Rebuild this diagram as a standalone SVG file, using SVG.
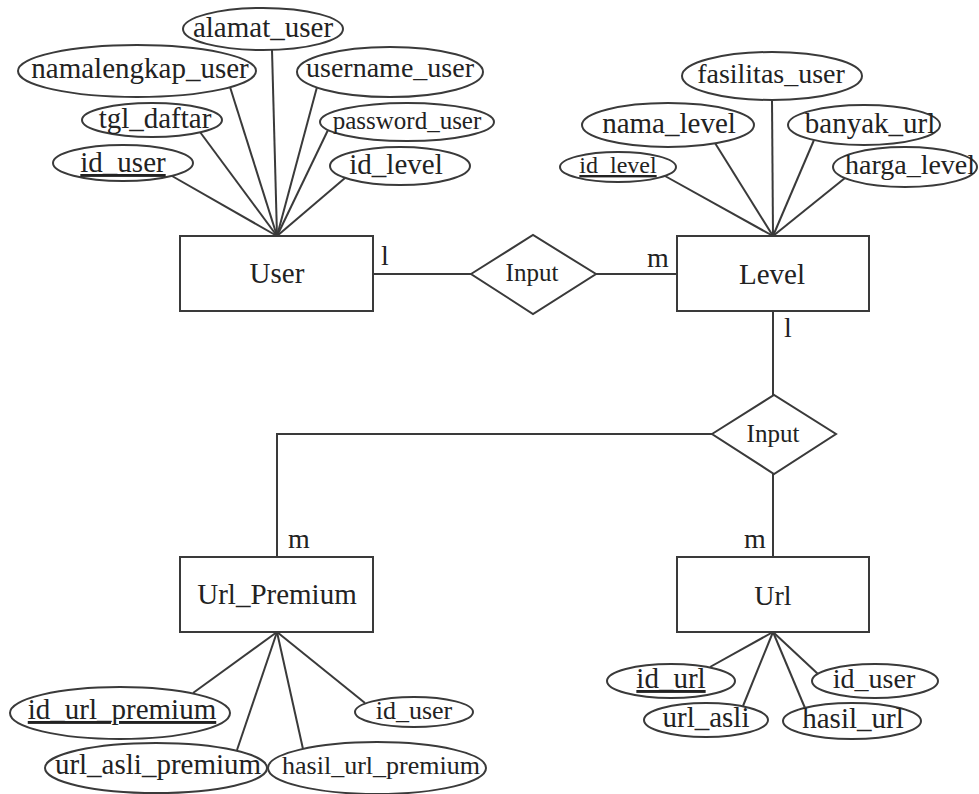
<svg xmlns="http://www.w3.org/2000/svg" width="979" height="794" viewBox="0 0 979 794" font-family="'Liberation Serif', 'Times New Roman', Tinos, 'DejaVu Serif', serif">
<style>
.bg{fill:#ffffff}
.ent{fill:#ffffff;stroke:#3a3a3a;stroke-width:2}
.rel{fill:#ffffff;stroke:#3a3a3a;stroke-width:2}
.att{fill:#ffffff;stroke:#3a3a3a;stroke-width:2}
.ln{stroke:#3a3a3a;stroke-width:2;fill:none}
text{font-family:'Liberation Serif', 'Times New Roman', Tinos, 'DejaVu Serif', serif;fill:#222222;text-anchor:middle}
.t29{font-size:29px}
.t28{font-size:28px}
.t26{font-size:26px}
.t25{font-size:25px}
.t24{font-size:24px}
.key{text-decoration:underline}
.card{font-size:28px;text-anchor:start}
</style>
<rect class="bg" x="0" y="0" width="979" height="794"/>

<g id="connectors">
  <line class="ln" x1="277" y1="236" x2="172" y2="176"/>
  <line class="ln" x1="277" y1="236" x2="200" y2="132"/>
  <line class="ln" x1="277" y1="236" x2="230" y2="87"/>
  <line class="ln" x1="277" y1="236" x2="272" y2="50"/>
  <line class="ln" x1="277" y1="236" x2="317" y2="87"/>
  <line class="ln" x1="277" y1="236" x2="328" y2="130"/>
  <line class="ln" x1="277" y1="236" x2="345" y2="178"/>
  <line class="ln" x1="773" y1="236" x2="665" y2="176"/>
  <line class="ln" x1="773" y1="236" x2="715" y2="143"/>
  <line class="ln" x1="773" y1="236" x2="772" y2="100"/>
  <line class="ln" x1="773" y1="236" x2="814" y2="140"/>
  <line class="ln" x1="773" y1="236" x2="845" y2="178"/>
  <line class="ln" x1="277" y1="632" x2="193" y2="693"/>
  <line class="ln" x1="277" y1="632" x2="237" y2="750"/>
  <line class="ln" x1="277" y1="632" x2="303" y2="749"/>
  <line class="ln" x1="277" y1="632" x2="365" y2="703"/>
  <line class="ln" x1="773" y1="632" x2="710" y2="667"/>
  <line class="ln" x1="773" y1="632" x2="743" y2="706"/>
  <line class="ln" x1="773" y1="632" x2="805" y2="708"/>
  <line class="ln" x1="773" y1="632" x2="818" y2="674"/>
  <line class="ln" x1="373" y1="274" x2="471" y2="274"/>
  <line class="ln" x1="596" y1="274" x2="677" y2="274"/>
  <line class="ln" x1="773" y1="311" x2="773" y2="395"/>
  <polyline class="ln" points="712,434 277,434 277,557"/>
  <line class="ln" x1="773" y1="474" x2="773" y2="557"/>
  <text class="card" x="381" y="265">l</text>
  <text class="card" x="647" y="267">m</text>
  <text class="card" x="784" y="337">l</text>
  <text class="card" x="288" y="548">m</text>
  <text class="card" x="744" y="548">m</text>
</g>

<g id="user">
  <rect class="ent" x="180" y="236" width="193" height="75"/>
  <text class="t29" x="277" y="283">User</text>
</g>
<g id="user-attr-alamat_user">
  <ellipse class="att" cx="263" cy="29" rx="80" ry="21"/>
  <text class="t29" x="263" y="37">alamat_user</text>
</g>
<g id="user-attr-namalengkap_user">
  <ellipse class="att" cx="137" cy="71" rx="119" ry="26"/>
  <text class="t29" x="140" y="78">namalengkap_user</text>
</g>
<g id="user-attr-username_user">
  <ellipse class="att" cx="390" cy="72" rx="93" ry="25"/>
  <text class="t28" x="390" y="77">username_user</text>
</g>
<g id="user-attr-tgl_daftar">
  <ellipse class="att" cx="152" cy="120" rx="70" ry="17"/>
  <text class="t29" x="155" y="128">tgl_daftar</text>
</g>
<g id="user-attr-password_user">
  <ellipse class="att" cx="407" cy="122" rx="87" ry="19"/>
  <text class="t25" x="407" y="129">password_user</text>
</g>
<g id="user-attr-id_user">
  <ellipse class="att" cx="123" cy="163" rx="70" ry="18"/>
  <text class="t29 key" x="123" y="172">id_user</text>
</g>
<g id="user-attr-id_level">
  <ellipse class="att" cx="400" cy="166" rx="70" ry="19"/>
  <text class="t29" x="396" y="174">id_level</text>
</g>

<g id="rel-input-1">
  <polygon class="rel" points="471,274 533,235 596,274 533,314"/>
  <text class="t25" x="532" y="281">Input</text>
</g>

<g id="level">
  <rect class="ent" x="677" y="236" width="192" height="75"/>
  <text class="t29" x="772" y="284">Level</text>
</g>
<g id="level-attr-fasilitas_user">
  <ellipse class="att" cx="772" cy="76" rx="90" ry="24"/>
  <text class="t28" x="771" y="83">fasilitas_user</text>
</g>
<g id="level-attr-nama_level">
  <ellipse class="att" cx="668" cy="125" rx="86" ry="22"/>
  <text class="t29" x="669" y="133">nama_level</text>
</g>
<g id="level-attr-banyak_url">
  <ellipse class="att" cx="864" cy="125" rx="76" ry="20"/>
  <text class="t29" x="870" y="133">banyak_url</text>
</g>
<g id="level-attr-id_level">
  <ellipse class="att" cx="618" cy="167" rx="58" ry="15"/>
  <text class="t24 key" x="618" y="173">id_level</text>
</g>
<g id="level-attr-harga_level">
  <ellipse class="att" cx="905" cy="167" rx="72" ry="20"/>
  <text class="t28" x="910" y="174">harga_level</text>
</g>

<g id="rel-input-2">
  <polygon class="rel" points="712,434 774,395 836,434 774,474"/>
  <text class="t25" x="773" y="442">Input</text>
</g>

<g id="url_premium">
  <rect class="ent" x="180" y="557" width="193" height="75"/>
  <text class="t29" x="277" y="604">Url_Premium</text>
</g>
<g id="urlp-attr-id_url_premium">
  <ellipse class="att" cx="120" cy="713" rx="110" ry="26"/>
  <text class="t29 key" x="122" y="719">id_url_premium</text>
</g>
<g id="urlp-attr-url_asli_premium">
  <ellipse class="att" cx="156" cy="768" rx="111" ry="25"/>
  <text class="t29" x="158" y="774">url_asli_premium</text>
</g>
<g id="urlp-attr-hasil_url_premium">
  <ellipse class="att" cx="377" cy="768" rx="109" ry="26"/>
  <text class="t26" x="381" y="774">hasil_url_premium</text>
</g>
<g id="urlp-attr-id_user">
  <ellipse class="att" cx="414" cy="712" rx="59" ry="15"/>
  <text class="t26" x="414" y="719">id_user</text>
</g>

<g id="url">
  <rect class="ent" x="677" y="557" width="192" height="75"/>
  <text class="t28" x="773" y="605">Url</text>
</g>
<g id="url-attr-id_url">
  <ellipse class="att" cx="671" cy="681" rx="64" ry="17"/>
  <text class="t29 key" x="671" y="688">id_url</text>
</g>
<g id="url-attr-id_user">
  <ellipse class="att" cx="875" cy="681" rx="63" ry="17"/>
  <text class="t28" x="874" y="688">id_user</text>
</g>
<g id="url-attr-url_asli">
  <ellipse class="att" cx="706" cy="720" rx="62" ry="17"/>
  <text class="t29" x="706" y="727">url_asli</text>
</g>
<g id="url-attr-hasil_url">
  <ellipse class="att" cx="852" cy="721" rx="69" ry="18"/>
  <text class="t29" x="853" y="728">hasil_url</text>
</g>
</svg>
